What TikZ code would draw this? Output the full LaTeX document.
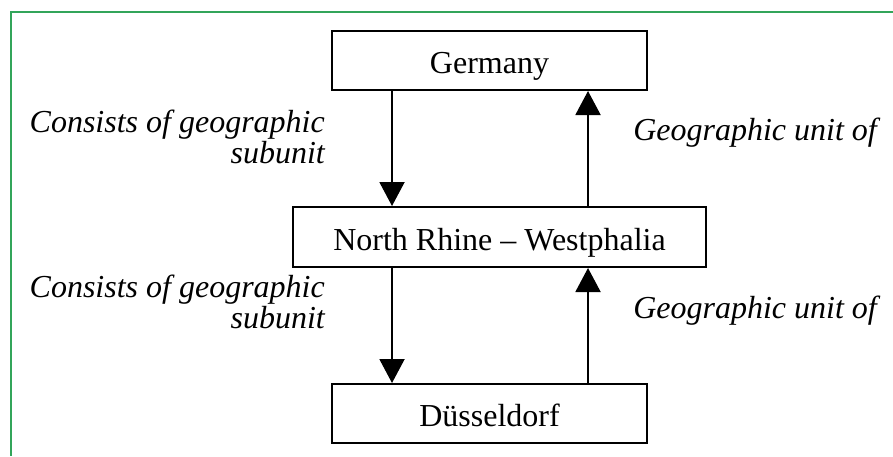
\documentclass[tikz,border=0pt]{standalone}
\usepackage{fontspec}
\setmainfont{Liberation Serif}
\usetikzlibrary{arrows.meta}
\definecolor{framegreen}{RGB}{50,165,90}
\tikzset{
  box/.style={draw=black, line width=2pt, rectangle, inner sep=0pt,
    text height=26pt, text depth=0pt,
    font=\fontsize{32}{38}\selectfont},
  conn/.style={line width=2pt, -{Triangle[width=25pt,length=24pt]}},
  lbl/.style={inner sep=0pt, align=right, anchor=base east,
    font=\fontsize{32}{31}\selectfont\itshape},
  rlbl/.style={inner sep=0pt, anchor=base east,
    font=\fontsize{32}{31}\selectfont\itshape}
}
\begin{document}
\begin{tikzpicture}[x=1pt,y=-1pt]
\useasboundingbox (0,0) rectangle (893,456);
\draw[framegreen, line width=1.3pt] (893,12) -- (11,12) -- (11,456);

\node[box, minimum width=315pt, minimum height=59pt] (ger) at (489.5,60.5) {Germany};
\node[box, minimum width=413pt, minimum height=60pt] (nrw) at (499.5,237) {North Rhine – Westphalia};
\node[box, minimum width=315pt, minimum height=59pt] (dus) at (489.5,413.5) {Düsseldorf};

\coordinate (xl) at (392,0);
\coordinate (xr) at (588,0);

\draw[conn] (ger.south -| xl) -- (nrw.north -| xl);
\draw[conn] (nrw.north -| xr) -- (ger.south -| xr);
\draw[conn] (nrw.south -| xl) -- (dus.north -| xl);
\draw[conn] (dus.north -| xr) -- (nrw.south -| xr);

\node[lbl] (l1) at (325,163) {Consists of geographic\\subunit};
\node[lbl] (l2) at (325,328) {Consists of geographic\\subunit};
\node[rlbl] (r1) at (877,140) {Geographic unit of};
\node[rlbl] (r2) at (877,318) {Geographic unit of};
\end{tikzpicture}
\end{document}
